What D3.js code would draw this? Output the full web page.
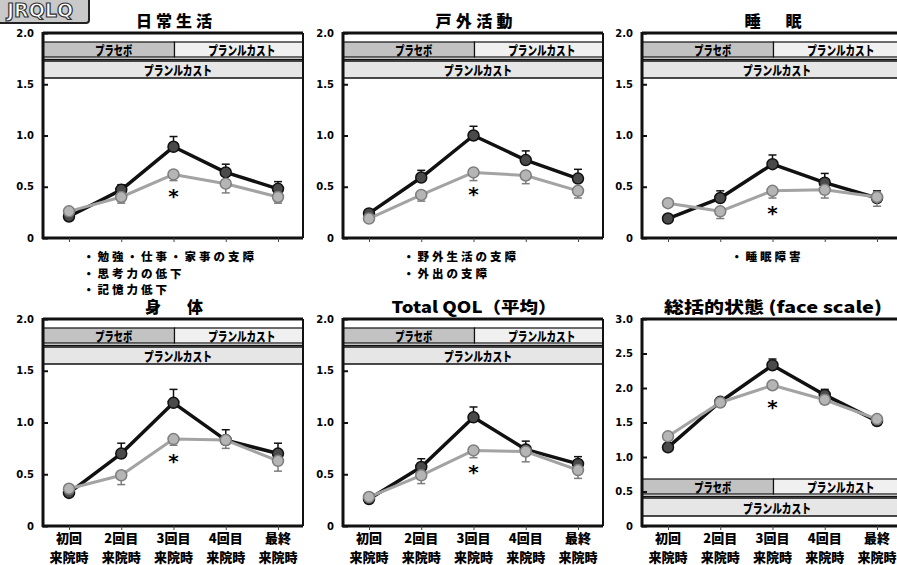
<!DOCTYPE html>
<html>
<head>
<meta charset="utf-8">
<script src="https://cdn.jsdelivr.net/npm/d3@7"></script>
<style>
body { margin:0; background:#fff; }
text { font-family:"Noto Sans CJK JP", sans-serif; font-weight:900; }
.num text { font-family:"DejaVu Sans", sans-serif; font-size:10px; font-weight:bold; }
</style>
</head>
<body>
<svg width="897" height="565"></svg>
<script>
// visits (x categories)
const visitLine1 = ['初回', '2回目', '3回目', '4回目', '最終'];
const visitLine2 = ['来院時', '来院時', '来院時', '来院時', '来院時'];

const titles = ['日常生活', '戸外活動', '睡　眠', '身　体', 'Total QOL（平均）', '総括的状態 (face scale)'];
const titleWidths = [76, 77, 57, 58, 165, 218];

// black line: プランルカスト群, gray line: プラセボ→プランルカスト群
const blackMean = [
  [0.21, 0.47, 0.89, 0.64, 0.48],
  [0.24, 0.59, 1.00, 0.76, 0.58],
  [0.19, 0.39, 0.72, 0.54, 0.39],
  [0.32, 0.70, 1.19, 0.83, 0.70],
  [0.26, 0.57, 1.05, 0.74, 0.60],
  [1.14, 1.80, 2.33, 1.90, 1.52]
];
const blackSE = [
  [0.03, 0.05, 0.10, 0.08, 0.07],
  [0.03, 0.07, 0.09, 0.09, 0.09],
  [0.03, 0.07, 0.09, 0.09, 0.07],
  [0.04, 0.10, 0.13, 0.10, 0.10],
  [0.03, 0.08, 0.10, 0.08, 0.07],
  [0.05, 0.05, 0.09, 0.08, 0.05]
];
const grayMean = [
  [0.26, 0.40, 0.62, 0.53, 0.40],
  [0.19, 0.42, 0.64, 0.61, 0.46],
  [0.34, 0.26, 0.46, 0.47, 0.40],
  [0.36, 0.49, 0.84, 0.83, 0.63],
  [0.28, 0.49, 0.73, 0.72, 0.54],
  [1.30, 1.79, 2.04, 1.83, 1.55]
];
const graySE = [
  [0.03, 0.06, 0.06, 0.09, 0.06],
  [0.03, 0.06, 0.08, 0.08, 0.07],
  [0.04, 0.07, 0.07, 0.08, 0.09],
  [0.04, 0.09, 0.06, 0.08, 0.10],
  [0.03, 0.08, 0.07, 0.10, 0.08],
  [0.05, 0.05, 0.05, 0.06, 0.05]
];
const yMaxes = [2, 2, 2, 2, 2, 3];
const yTicks2 = [0, 0.5, 1.0, 1.5, 2.0];
const yTicks3 = [0, 0.5, 1.0, 1.5, 2.0, 2.5, 3.0];

const notes = [
  ['・勉強・仕事・家事の支障', '・思考力の低下', '・記憶力低下'],
  ['・野外生活の支障', '・外出の支障'],
  ['・睡眠障害']
];

const render = () => {
  const svg = d3.select('svg');
  const colX = [43, 343, 642];
  const rowTop = [33, 319];
  const rowBottom = [238, 526];
  const w = 260;

  // JRQLQ label at top-left
  svg.append('rect').attr('x', -6).attr('y', -4).attr('width', 95).attr('height', 27)
    .attr('rx', 3).attr('fill', '#c9c9c9').attr('stroke', '#222').attr('stroke-width', 2);
  svg.append('text').attr('x', 40).attr('y', 17).attr('text-anchor', 'middle')
    .style('font-family', '"DejaVu Sans", sans-serif').style('font-size', '19px')
    .attr('fill', '#fff').attr('stroke', '#333').attr('stroke-width', 1.2)
    .text('JRQLQ');

  titles.forEach((title, i) => {
    const col = i % 3, row = Math.floor(i / 3);
    const top = rowTop[row], bottom = rowBottom[row];
    const g = svg.append('g').attr('transform', `translate(${colX[col]},0)`);

    const yScale = d3.scaleLinear().domain([0, yMaxes[i]]).range([bottom, top]);
    const xScale = d3.scalePoint().domain(visitLine1).range([26, 235]);

    // title
    g.append('text').attr('x', w / 2 + 1).attr('y', top - 6).attr('text-anchor', 'middle')
      .attr('textLength', titleWidths[i])
      .attr('lengthAdjust', i >= 4 ? 'spacingAndGlyphs' : 'spacing')
      .style('font-size', '16px')
      .text(title);

    // treatment bands
    const split = xScale(visitLine1[2]) + 1;
    const b1 = i === 5 ? bottom - 47 : top + 9;
    const b2 = i === 5 ? bottom - 28 : top + 28;
    const bh1 = 15, bh2 = i === 5 ? 18 : 17;
    g.append('rect').attr('x', 0).attr('y', b1).attr('width', split).attr('height', bh1)
      .attr('fill', '#c2c2c2').attr('stroke', '#111').attr('stroke-width', 1.2);
    g.append('rect').attr('x', split).attr('y', b1).attr('width', w - split).attr('height', bh1)
      .attr('fill', '#f0f0f0').attr('stroke', '#111').attr('stroke-width', 1.2);
    g.append('rect').attr('x', 0).attr('y', b2).attr('width', w).attr('height', bh2)
      .attr('fill', '#e6e6e6').attr('stroke', '#111').attr('stroke-width', 1.5);
    g.append('line').attr('x1', 0).attr('x2', w).attr('y1', b2 - 1.5).attr('y2', b2 - 1.5)
      .attr('stroke', '#111').attr('stroke-width', 1.5);
    const bandText = (x, y, s, len) => g.append('text').attr('x', x).attr('y', y)
      .attr('text-anchor', 'middle').attr('dominant-baseline', 'central')
      .attr('textLength', len).attr('lengthAdjust', 'spacingAndGlyphs')
      .style('font-size', '13px').text(s);
    bandText(split / 2 + 5, b1 + bh1 / 2, 'プラセボ', 37);
    bandText((split + w) / 2 + 3, b1 + bh1 / 2, 'プランルカスト', 67);
    bandText(w / 2 + 5, b2 + bh2 / 2, 'プランルカスト', 68);

    // frame
    g.append('line').attr('x1', w).attr('x2', w).attr('y1', top).attr('y2', bottom)
      .attr('stroke', '#111').attr('stroke-width', 2);
    g.append('line').attr('x1', 0).attr('x2', w).attr('y1', top).attr('y2', top)
      .attr('stroke', '#111').attr('stroke-width', 3);
    g.append('line').attr('x1', 0).attr('x2', 0).attr('y1', top - 1).attr('y2', bottom + 1)
      .attr('stroke', '#111').attr('stroke-width', 3);
    g.append('line').attr('x1', -1).attr('x2', w).attr('y1', bottom).attr('y2', bottom)
      .attr('stroke', '#111').attr('stroke-width', 3);

    // axes
    const yAxis = d3.axisLeft(yScale)
      .tickValues(yMaxes[i] === 3 ? yTicks3 : yTicks2)
      .tickSize(-5).tickPadding(9)
      .tickFormat(d => d === 0 ? '0' : d3.format('.1f')(d));
    const ya = g.append('g').attr('class', 'num').call(yAxis);
    ya.select('.domain').remove();
    ya.selectAll('line').attr('stroke', '#111').attr('stroke-width', 2);

    const xAxis = d3.axisBottom(xScale).tickSize(4).tickFormat('');
    const xa = g.append('g').attr('transform', `translate(0,${bottom})`).call(xAxis);
    xa.select('.domain').remove();
    xa.selectAll('line').attr('stroke', '#444').attr('stroke-width', 1);

    if (row === 1) {
      visitLine1.forEach((v, k) => {
        g.append('text').attr('x', xScale(v)).attr('y', 543).attr('text-anchor', 'middle')
          .style('font-size', '13px').text(v);
        g.append('text').attr('x', xScale(v)).attr('y', 562).attr('text-anchor', 'middle')
          .style('font-size', '13px').text(visitLine2[k]);
      });
    }

    // series
    const line = d3.line().x((d, k) => xScale(visitLine1[k])).y(d => yScale(d));
    const drawSeries = (mean, se, dir, stroke, lw, fill, mstroke) => {
      g.append('path').datum(mean).attr('d', line).attr('fill', 'none')
        .attr('stroke', stroke).attr('stroke-width', lw).attr('stroke-linejoin', 'round');
      const eb = g.append('g');
      mean.forEach((m, k) => {
        const x = xScale(visitLine1[k]);
        const ye = yScale(m + dir * se[k]);
        eb.append('line').attr('x1', x).attr('x2', x).attr('y1', yScale(m)).attr('y2', ye)
          .attr('stroke', mstroke).attr('stroke-width', 1.5);
        eb.append('line').attr('x1', x - 4).attr('x2', x + 4).attr('y1', ye).attr('y2', ye)
          .attr('stroke', mstroke).attr('stroke-width', 1.5);
      });
      g.append('g').selectAll('circle').data(mean).enter().append('circle')
        .attr('cx', (d, k) => xScale(visitLine1[k])).attr('cy', d => yScale(d))
        .attr('r', 5.5).attr('fill', fill).attr('stroke', mstroke).attr('stroke-width', 1.5);
    };
    drawSeries(blackMean[i], blackSE[i], 1, '#111', 3.5, '#4a4a4a', '#111');
    drawSeries(grayMean[i], graySE[i], -1, '#a3a3a3', 3, '#b5b5b5', '#7d7d7d');

    // significance mark
    g.append('text').attr('x', xScale(visitLine1[2])).attr('y', yScale(grayMean[i][2]) + 29)
      .attr('text-anchor', 'middle').style('font-family', '"DejaVu Sans", sans-serif')
      .style('font-size', '20px').text('*');

    // notes under top row
    if (row === 0) {
      const nx = [40, 60, 89][col];
      notes[col].forEach((s, k) => {
        g.append('text').attr('x', nx).attr('y', 261 + k * 16.5)
          .style('font-size', '11.5px').style('letter-spacing', '3px').text(s);
      });
    }
  });
};

render();
</script>
</body>
</html>
